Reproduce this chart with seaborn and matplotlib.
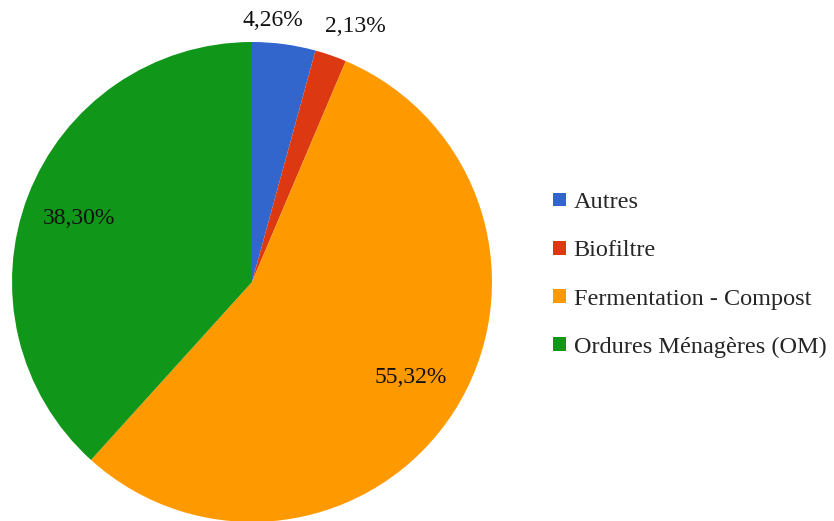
import numpy as np
import seaborn as sns
import matplotlib.pyplot as plt
from matplotlib.patches import Patch

# Data
categories = ['Autres', 'Biofiltre', 'Fermentation - Compost', 'Ordures Ménagères (OM)']
shares = [4.26, 2.13, 55.32, 38.30]
colors = ['#3366CC', '#DC3912', '#FF9900', '#109618']

# label placement (radius factor, angle shift in degrees)
label_r = [1.095, 1.15, 0.77, 0.765]
label_shift = [3.1, -2.8, 1.5, 1.0]

sns.set_theme(style='white')
plt.rcParams['font.family'] = ['Liberation Serif', 'DejaVu Serif']

fig = plt.figure(figsize=(8.34, 5.21), dpi=100)
ax = fig.add_axes([0.0144, -0.0019, 0.5755, 0.9213])

wedges, _ = ax.pie(shares, colors=colors, startangle=90, counterclock=False,
                   radius=1.0, wedgeprops={'linewidth': 0})
ax.set_xlim(-1, 1)
ax.set_ylim(-1, 1)
ax.set_aspect('equal')
ax.axis('off')

for w, v, r, s in zip(wedges, shares, label_r, label_shift):
    mid = np.deg2rad((w.theta1 + w.theta2) / 2 + s)
    ax.text(r * np.cos(mid), r * np.sin(mid), f'{v:.2f}%'.replace('.', ','),
            ha='center', va='center', fontsize=17, color='#111111', clip_on=False)

handles = [Patch(facecolor=c, edgecolor='none') for c in colors]
fig.legend(handles, categories, loc='center left', bbox_to_anchor=(0.652, 0.472),
           frameon=False, fontsize=17.5, labelspacing=1.12, handlelength=0.5,
           handleheight=0.5, handletextpad=0.33, borderaxespad=0)

fig.savefig('out.png', dpi=100)
